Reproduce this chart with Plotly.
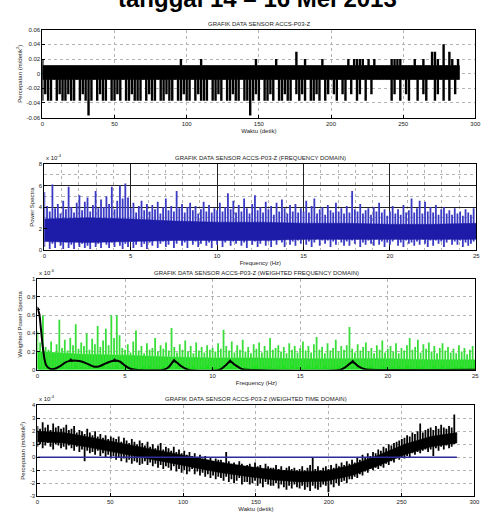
import plotly.graph_objects as go

# ---------------- DATA ----------------
# Panel 1: acceleration (m/s^2), 2-second bins, upper / lower excursions
E, F, G, H = 0.011, 0.02, 0.03, 0.04
A, B, C, D = -0.037, -0.028, -0.008, -0.057
p1_step = 2.0
p1_core = [C, E]          # solid band always filled
p1_core_t = [0, 289]
p1_hi = [F, E, E, E, E, E, E, E, E, E,
         E, E, E, E, E, E, E, E, E, E,
         E, E, E, E, E, E, E, E, E, E,
         E, E, E, E, E, E, E, E, E, E,
         E, E, E, E, E, E, E, E, F, E,
         E, E, E, E, E, F, E, E, E, E,
         E, E, E, E, E, E, E, E, E, E,
         E, E, E, E, F, E, E, E, E, E,
         E, F, E, E, E, E, E, E, G, E,
         E, F, E, E, E, E, E, F, E, E,
         E, E, E, E, E, E, F, E, F, F,
         F, F, E, F, E, F, E, E, E, E,
         E, F, F, F, F, E, E, E, E, F,
         E, E, F, E, E, G, G, F, E, H,
         E, G, F, E, F]
p1_lo = [A, B, A, A, C, A, B, A, A, B,
         A, A, C, A, B, A, D, A, C, A,
         B, A, A, C, A, A, B, A, C, A,
         A, B, A, A, A, C, A, B, A, A,
         C, A, A, B, A, A, C, A, A, B,
         A, A, C, A, B, A, A, A, C, A,
         A, B, A, C, A, A, B, A, A, C,
         A, A, D, A, B, A, C, A, A, B,
         A, C, A, A, B, A, A, C, B, A,
         B, A, C, A, A, B, A, C, A, B,
         C, B, A, C, B, A, C, B, C, A,
         B, C, A, C, B, C, C, C, C, C,
         C, A, B, C, A, C, B, A, C, C,
         A, C, B, A, C, C, A, B, C, A,
         C, A, C, B, C]

# Panel 2: power spectra (x 1e-4), bins of 25/160 Hz
p2_hi = [5.4, 4.1, 3.6, 6.1, 3.9, 4.3, 3.4, 4.6,
         3.8, 5.9, 4.0, 3.5, 4.4, 5.1, 3.7, 4.5,
         4.9, 3.6, 4.2, 5.5, 3.9, 4.7, 4.0, 5.0,
         4.3, 5.9, 3.8, 4.6, 6.0, 4.8, 6.2, 4.9,
         3.9, 4.4, 3.5, 4.1, 4.6, 3.7, 4.3, 3.6,
         4.2, 3.8, 4.5, 3.4, 4.0, 4.8, 3.7, 4.1,
         3.6, 5.5, 3.9, 4.3, 3.5, 4.0, 4.4, 3.7,
         4.1, 3.4, 3.8, 4.5, 3.6, 4.2, 3.5, 3.9,
         3.7, 4.4, 3.6, 4.0, 5.3, 3.8, 4.6, 3.5,
         4.2, 3.6, 4.8, 3.9, 3.4, 4.3, 5.1, 3.7,
         4.0, 3.5, 4.5, 3.8, 4.1, 3.3, 4.4, 3.6,
         4.7, 3.9, 3.4, 4.2, 3.6, 4.3, 3.5, 3.9,
         3.6, 4.6, 3.5, 4.1, 4.8, 3.4, 3.8, 4.0,
         3.3, 4.2, 3.7, 3.5, 4.4, 3.6, 3.9, 3.4,
         4.1, 3.5, 5.5, 3.8, 3.6, 4.3, 3.4, 3.7,
         3.9, 3.3, 4.0, 3.6, 4.4, 3.5, 3.8, 3.2,
         3.6, 4.1, 3.4, 3.8, 3.3, 4.2, 3.5, 3.7,
         4.8, 3.5, 3.9, 4.6, 3.4, 4.5, 3.6, 4.0,
         3.5, 4.2, 3.3, 3.8, 4.0, 3.4, 3.7, 3.3,
         3.9, 3.4, 3.6, 3.2, 3.8, 3.5, 3.3, 3.9]
p2_lo = [0.3, 0.9, 0.1, 0.6, 0.2, 0.8, 0.4, 0.1,
         0.7, 0.2, 0.5, 0.1, 0.9, 0.3, 0.6, 0.2,
         0.4, 0.1, 0.8, 0.3, 0.6, 0.2, 0.9, 0.5,
         0.2, 0.7, 0.3, 1.0, 0.4, 0.1, 0.6, 0.3,
         0.8, 0.2, 0.5, 0.9, 0.3, 0.6, 0.1, 0.7,
         0.4, 1.0, 0.2, 0.6, 0.8, 0.3, 0.5, 0.9,
         0.2, 0.6, 1.1, 0.4, 0.7, 0.2, 0.9, 0.5,
         0.8, 0.3, 0.6, 1.0, 0.4, 0.7, 0.2, 0.9,
         0.5, 0.9, 0.3, 0.7, 1.0, 0.4, 0.8, 0.6,
         0.9, 0.4, 0.7, 0.2, 1.1, 0.5, 0.8, 0.3,
         0.6, 1.0, 0.4, 0.8, 0.3, 0.9, 0.5, 1.1,
         0.7, 0.3, 1.0, 0.5, 0.8, 0.4, 0.9, 0.6,
         1.0, 0.5, 0.8, 0.3, 0.7, 1.1, 0.4, 0.9,
         0.6, 0.9, 0.3, 0.8, 0.5, 1.0, 0.7, 0.4,
         0.8, 0.4, 0.9, 0.6, 1.0, 0.3, 0.7, 0.5,
         0.9, 0.6, 0.4, 1.0, 0.5, 0.8, 0.3, 0.7,
         0.5, 0.8, 1.0, 0.4, 0.7, 0.3, 0.9, 0.6,
         0.7, 0.4, 0.8, 0.5, 1.0, 0.6, 0.3, 0.9,
         0.4, 0.9, 0.6, 0.8, 0.3, 0.7, 1.0, 0.5,
         0.8, 0.5, 0.9, 0.3, 0.7, 0.4, 0.6, 0.8]
# dense core of the blue spectrum, every 2.5 Hz
p2_core_f = [0, 2.5, 5, 7.5, 10, 12.5, 15, 17.5, 20, 22.5, 25]
p2_core_hi = [2.9, 3.0, 2.9, 2.7, 2.6, 2.6, 2.5, 2.5, 2.4, 2.4, 2.5]
p2_core_lo = [0.8, 0.7, 0.8, 0.9, 0.9, 0.9, 1.0, 1.0, 1.0, 1.0, 1.0]

# Panel 3: weighted power spectra (x 1e-6)
p3_hi = [0.42, 0.30, 0.60, 0.25, 0.22, 0.31, 0.19, 0.28,
         0.55, 0.24, 0.33, 0.21, 0.35, 0.27, 0.50, 0.23,
         0.30, 0.26, 0.40, 0.22, 0.34, 0.28, 0.48, 0.25,
         0.32, 0.45, 0.27, 0.60, 0.35, 0.60, 0.38, 0.24,
         0.22, 0.28, 0.19, 0.31, 0.43, 0.21, 0.26, 0.18,
         0.29, 0.22, 0.24, 0.35, 0.20, 0.27, 0.23, 0.30,
         0.21, 0.46, 0.25, 0.19, 0.28, 0.22, 0.32, 0.20,
         0.26, 0.18, 0.30, 0.21, 0.25, 0.19, 0.27, 0.22,
         0.24, 0.20, 0.29, 0.23, 0.44, 0.26, 0.21, 0.31,
         0.19, 0.27, 0.22, 0.33, 0.20, 0.25, 0.18, 0.28,
         0.23, 0.30, 0.19, 0.26, 0.21, 0.35, 0.22, 0.24,
         0.27, 0.20, 0.25, 0.18, 0.29, 0.22, 0.26, 0.19,
         0.24, 0.31, 0.21, 0.26, 0.19, 0.28, 0.36, 0.22,
         0.25, 0.18, 0.29, 0.21, 0.24, 0.33, 0.20, 0.26,
         0.22, 0.27, 0.47, 0.23, 0.19, 0.28, 0.21, 0.25,
         0.30, 0.20, 0.24, 0.18, 0.27, 0.22, 0.32, 0.19,
         0.23, 0.26, 0.20, 0.29, 0.18, 0.24, 0.21, 0.27,
         0.35, 0.22, 0.25, 0.33, 0.19, 0.28, 0.23, 0.30,
         0.20, 0.26, 0.18, 0.24, 0.29, 0.21, 0.25, 0.19,
         0.23, 0.18, 0.27, 0.20, 0.24, 0.17, 0.22, 0.26]
p3_lo = [0.01, 0.03, 0.00, 0.02, 0.05, 0.01, 0.03, 0.00,
         0.02, 0.04, 0.01, 0.03, 0.00, 0.02, 0.05, 0.01,
         0.03, 0.00, 0.02, 0.04, 0.01, 0.03, 0.00, 0.02,
         0.04, 0.01, 0.03, 0.00, 0.02, 0.05, 0.01, 0.03,
         0.00, 0.02, 0.04, 0.01, 0.03, 0.00, 0.02, 0.04,
         0.01, 0.05, 0.02, 0.00, 0.03, 0.01, 0.04, 0.02,
         0.03, 0.00, 0.01, 0.04, 0.02, 0.05, 0.00, 0.03,
         0.02, 0.04, 0.00, 0.01, 0.03, 0.02, 0.05, 0.01,
         0.00, 0.03, 0.02, 0.04, 0.01, 0.00, 0.03, 0.05,
         0.02, 0.01, 0.04, 0.00, 0.03, 0.02, 0.01, 0.04,
         0.05, 0.02, 0.00, 0.03, 0.01, 0.04, 0.02, 0.00,
         0.03, 0.01, 0.05, 0.02, 0.00, 0.04, 0.01, 0.03,
         0.02, 0.00, 0.03, 0.05, 0.01, 0.02, 0.04, 0.00,
         0.01, 0.04, 0.02, 0.00, 0.03, 0.01, 0.05, 0.02,
         0.04, 0.02, 0.01, 0.03, 0.00, 0.05, 0.02, 0.01,
         0.00, 0.03, 0.05, 0.01, 0.02, 0.00, 0.04, 0.03,
         0.02, 0.01, 0.03, 0.00, 0.04, 0.02, 0.01, 0.05,
         0.03, 0.00, 0.02, 0.04, 0.01, 0.03, 0.00, 0.02,
         0.01, 0.04, 0.00, 0.02, 0.05, 0.01, 0.03, 0.00,
         0.02, 0.03, 0.01, 0.04, 0.00, 0.02, 0.03, 0.01]
p3_core_f = [0, 2.5, 5, 7.5, 10, 12.5, 15, 17.5, 20, 22.5, 25]
p3_core_hi = [0.20, 0.17, 0.16, 0.14, 0.13, 0.13, 0.12, 0.12, 0.12, 0.11, 0.11]
p3_curve_f = [0.0, 0.1, 0.2, 0.3, 0.4, 0.5, 0.7, 1.0, 1.3, 1.6, 1.9, 2.4, 2.8, 3.2, 3.5,
              3.9, 4.4, 4.7, 5.0, 5.3, 5.6, 7.2, 7.5, 7.8, 8.2, 8.6, 10.4, 10.7, 11.0,
              11.3, 11.7, 12.0, 17.3, 17.6, 18.0, 18.3, 18.7, 19.0, 25.0]
p3_curve_v = [0.67, 0.62, 0.45, 0.26, 0.12, 0.05, 0.012, 0.01, 0.04, 0.08, 0.10, 0.095, 0.07,
              0.035, 0.035, 0.07, 0.10, 0.09, 0.045, 0.01, 0.0, 0.0, 0.03, 0.095, 0.04, 0.0,
              0.0, 0.04, 0.09, 0.05, 0.005, 0.0, 0.0, 0.03, 0.085, 0.04, 0.005, 0.0, 0.0]
p3_peak_f = [0.0, 1.9, 4.4, 7.8, 11.0, 18.0]
p3_peak_v = [0.67, 0.10, 0.10, 0.095, 0.09, 0.085]

# Panel 4: weighted time domain (x 1e-4), 1.8 s bins
p4_step = 1.8
p4_hi = [2.4, 2.2, 2.7, 2.3, 2.5, 2.1, 2.6, 2.3, 2.4, 2.2,
         2.3, 2.5, 2.1, 2.2, 2.4, 1.9, 2.1, 2.0, 1.8, 2.2,
         1.9, 1.7, 2.0, 1.6, 1.8, 1.5, 1.7, 1.4, 1.6, 1.5,
         1.4, 1.6, 1.2, 1.5, 1.3, 1.1, 1.4, 1.2, 1.0, 1.3,
         1.1, 0.9, 1.2, 0.8, 1.0, 0.7, 0.9, 1.1, 0.6, 0.8,
         0.7, 0.5, 0.8, 0.4, 0.6, 0.3, 0.5, 0.2, 0.4, 0.1,
         0.3, 0.0, 0.2, -0.1, 0.1, -0.2, 0.0, -0.3, -0.1, -0.2,
         -0.2, -0.4, 0.4, -0.3, -0.5, -0.4, -0.6, -0.3, -0.5, -0.7,
         -0.6, -0.5, -0.8, -0.4, -0.7, -0.6, -0.9, -0.5, -0.7, -0.8,
         -0.8, -0.6, -0.9, -0.7, -1.0, -0.8, -0.7, -0.9, -0.8, -1.0,
         -0.9, -0.7, -1.0, -0.8, -0.6, 0.0, -0.9, -0.7, -1.0, -0.8,
         -0.7, -0.9, -0.6, -0.8, -0.5, -0.7, -0.4, -0.6, -0.3, -0.5,
         -0.2, -0.4, 0.0, -0.2, 0.2, 0.0, 0.3, 0.1, 0.4, 0.3,
         0.6, 0.5, 0.8, 0.7, 1.0, 0.9, 1.1, 1.2, 1.3, 1.4,
         1.5, 1.7, 1.6, 1.9, 1.8, 2.0, 2.6, 1.9, 2.1, 2.2,
         2.3, 2.1, 2.4, 2.2, 2.5, 2.3, 2.2, 2.4, 2.3, 3.3]
p4_lo = [0.8, 1.0, 0.7, 0.9, 1.1, 0.8, 0.6, 1.0, 0.9, 0.7,
         0.8, 0.6, 0.9, 0.7, 0.5, 0.8, 0.4, 0.6, -0.3, 0.5,
         0.3, 0.4, 0.2, 0.5, 0.1, 0.3, 0.0, 0.2, -0.1, 0.1,
         -0.2, 0.0, -0.3, -0.1, -0.4, -0.2, -0.5, -0.3, -0.4, -0.6,
         -0.5, -0.3, -0.6, -0.4, -0.7, -0.5, -0.8, -0.6, -0.9, -0.7,
         -0.8, -1.0, -0.7, -1.1, -0.9, -1.2, -1.0, -1.3, -1.1, -0.9,
         -1.3, -1.1, -1.4, -1.2, -1.5, -1.3, -1.6, -1.4, -1.7, -1.5,
         -1.6, -1.8, -1.5, -1.9, -1.7, -2.0, -1.8, -1.6, -2.1, -1.9,
         -1.9, -2.1, -2.0, -1.8, -2.2, -2.0, -2.3, -1.9, -2.1, -2.2,
         -2.2, -2.0, -2.4, -2.1, -2.3, -2.5, -2.2, -2.4, -2.1, -2.3,
         -2.4, -2.2, -2.5, -2.3, -2.6, -2.2, -2.4, -2.5, -2.3, -2.1,
         -2.2, -2.7, -2.1, -2.3, -2.0, -2.2, -1.9, -1.8, -2.0, -1.7,
         -1.7, -1.5, -1.6, -1.3, -1.4, -1.1, -1.2, -0.9, -1.0, -0.8,
         -0.9, -0.7, -0.8, -0.5, -0.6, -0.3, -0.4, -0.1, -0.2, 0.0,
         -0.1, 0.1, 0.0, 0.3, 0.2, 0.4, 0.3, 0.5, 0.6, 0.4,
         0.6, 0.1, 0.7, 0.5, 0.8, 0.6, 0.9, 0.7, 0.8, 1.0]
# dense core of the weighted time signal, every 18 s
p4_core_t = [0, 18, 36, 54, 72, 90, 108, 126, 144, 162, 180, 198, 216, 234, 252, 270, 288]
p4_core_hi = [2.0, 1.9, 1.55, 1.15, 0.8, 0.4, 0.0, -0.4, -0.7, -0.95, -1.1, -1.05, -0.6, 0.15, 1.0, 1.6, 1.9]
p4_core_lo = [1.2, 1.1, 0.75, 0.35, 0.0, -0.4, -0.8, -1.2, -1.5, -1.75, -1.9, -1.85, -1.4, -0.65, 0.2, 0.8, 1.1]
p4_ref_t = [0, 288]
p4_ref_v = [0, 0]

# ---------------- FIGURE ----------------
W, Hh = 504, 520
FONT = "Liberation Sans"


def strokes(step, hi, lo, x0=0.0):
    """vertical strokes from lo to hi, one per bin"""
    xs, ys = [], []
    for k, (h, l) in enumerate(zip(hi, lo)):
        x = x0 + k * step
        xs += [x, x, None]
        ys += [h, l, None]
    return xs, ys


def band(xs, hi, lo):
    return list(xs) + list(xs)[::-1], list(hi) + list(lo)[::-1]


def xdom(a, b):
    return [a / W, b / W]


def ydom(top, bottom):
    return [1 - bottom / Hh, 1 - top / Hh]


fig = go.Figure()

# Panel 1
bx, by = band(p1_core_t, [p1_core[1]] * 2, [p1_core[0]] * 2)
fig.add_trace(go.Scatter(x=bx, y=by, fill="toself", fillcolor="black", mode="lines",
                         line=dict(color="black", width=0.5), xaxis="x", yaxis="y", showlegend=False))
x1, y1 = strokes(p1_step, p1_hi, p1_lo)
fig.add_trace(go.Scatter(x=x1, y=y1, mode="lines", line=dict(color="black", width=2.4),
                         xaxis="x", yaxis="y", showlegend=False))

# Panel 2
p2_step = 25.0 / len(p2_hi)
x2, y2 = strokes(p2_step, p2_hi, p2_lo)
fig.add_trace(go.Scatter(x=x2, y=y2, mode="lines", line=dict(color="#3a3ac4", width=1.8),
                         xaxis="x2", yaxis="y2", showlegend=False))
bx, by = band(p2_core_f, p2_core_hi, p2_core_lo)
fig.add_trace(go.Scatter(x=bx, y=by, fill="toself", fillcolor="#1c1ca8", mode="lines",
                         line=dict(color="#1c1ca8", width=0.5),
                         xaxis="x2", yaxis="y2", showlegend=False))

# Panel 3
bx, by = band(p3_core_f, p3_core_hi, [0] * len(p3_core_f))
fig.add_trace(go.Scatter(x=bx, y=by, fill="toself", fillcolor="#1fe01f", mode="lines",
                         line=dict(color="#1fe01f", width=0.5),
                         xaxis="x3", yaxis="y3", showlegend=False))
p3_step = 25.0 / len(p3_hi)
x3, y3 = strokes(p3_step, p3_hi, p3_lo)
fig.add_trace(go.Scatter(x=x3, y=y3, mode="lines", line=dict(color="#3ade3a", width=1.8),
                         xaxis="x3", yaxis="y3", showlegend=False))
fig.add_trace(go.Scatter(x=p3_curve_f, y=p3_curve_v, mode="lines",
                         line=dict(color="black", width=2, shape="spline", smoothing=0.8),
                         xaxis="x3", yaxis="y3", showlegend=False))
fig.add_trace(go.Scatter(x=p3_peak_f, y=p3_peak_v, mode="markers",
                         marker=dict(symbol="triangle-up", size=5, color="black"),
                         xaxis="x3", yaxis="y3", showlegend=False))

# Panel 4
bx, by = band(p4_core_t, p4_core_hi, p4_core_lo)
fig.add_trace(go.Scatter(x=bx, y=by, fill="toself", fillcolor="black", mode="lines",
                         line=dict(color="black", width=0.5),
                         xaxis="x4", yaxis="y4", showlegend=False))
x4, y4 = strokes(p4_step, p4_hi, p4_lo)
fig.add_trace(go.Scatter(x=x4, y=y4, mode="lines", line=dict(color="black", width=1.8),
                         xaxis="x4", yaxis="y4", showlegend=False))
fig.add_trace(go.Scatter(x=p4_ref_t, y=p4_ref_v, mode="lines", line=dict(color="#2c2c9c", width=1.5),
                         xaxis="x4", yaxis="y4", showlegend=False))

tickfont = dict(size=6, color="#222", family=FONT)
titlefont = dict(size=6, color="#222", family=FONT)
base = dict(showline=True, linecolor="black", linewidth=1, mirror=True, ticks="inside",
            ticklen=3, tickcolor="black", tickfont=tickfont, showgrid=True,
            gridcolor="#b4b4b4", griddash="dot", gridwidth=1, zeroline=False)

panels = [
    dict(x=(41, 481), y=(27, 116)),
    dict(x=(43, 482), y=(163, 250)),
    dict(x=(36, 481), y=(279, 371)),
    dict(x=(36, 480), y=(407, 499)),
]

lay = dict(width=W, height=Hh, margin=dict(l=0, r=0, t=0, b=0),
           paper_bgcolor="white", plot_bgcolor="white", font=dict(family=FONT))

lay["xaxis"] = dict(base, domain=xdom(*panels[0]["x"]), anchor="y", range=[0, 300], dtick=50,
                    title=dict(text="Waktu (detik)", font=titlefont, standoff=2))
lay["yaxis"] = dict(base, domain=ydom(*panels[0]["y"]), anchor="x", range=[-0.06, 0.06],
                    tickvals=[-0.06, -0.04, -0.02, 0, 0.02, 0.04, 0.06],
                    ticktext=["-0.06", "-0.04", "-0.02", "0", "0.02", "0.04", "0.06"],
                    title=dict(text="Percepatan (m/detik<sup>2</sup>)", font=titlefont, standoff=3))

lay["xaxis2"] = dict(base, domain=xdom(*panels[1]["x"]), anchor="y2", range=[0, 25], dtick=5,
                     gridcolor="#222", griddash="solid",
                     minor=dict(dtick=1, showgrid=True, gridcolor="#b4b4b4", griddash="dot", ticks=""),
                     title=dict(text="Frequency (Hz)", font=titlefont, standoff=2))
lay["yaxis2"] = dict(base, domain=ydom(*panels[1]["y"]), anchor="x2", range=[0, 8], dtick=2,
                     gridcolor="#222", griddash="solid",
                     minor=dict(dtick=1, showgrid=True, gridcolor="#b4b4b4", griddash="dot", ticks=""),
                     title=dict(text="Power Spectra", font=titlefont, standoff=3))

lay["xaxis3"] = dict(base, domain=xdom(*panels[2]["x"]), anchor="y3", range=[0, 25], dtick=5,
                     title=dict(text="Frequency (Hz)", font=titlefont, standoff=2))
lay["yaxis3"] = dict(base, domain=ydom(*panels[2]["y"]), anchor="x3", range=[0, 1],
                     tickvals=[0, 0.2, 0.4, 0.6, 0.8, 1], ticktext=["0", "0.2", "0.4", "0.6", "0.8", "1"],
                     title=dict(text="Weighted Power Spectra", font=titlefont, standoff=3))

lay["xaxis4"] = dict(base, domain=xdom(*panels[3]["x"]), anchor="y4", range=[0, 300], dtick=50,
                     title=dict(text="Waktu (detik)", font=titlefont, standoff=2))
lay["yaxis4"] = dict(base, domain=ydom(*panels[3]["y"]), anchor="x4", range=[-3, 4],
                     tickvals=[-3, -2, -1, 0, 1, 2, 3, 4], ticktext=["-3", "-2", "-1", "0", "1", "2", "3", "4"],
                     title=dict(text="Percepatan (m/detik<sup>2</sup>)", font=titlefont, standoff=3))

titles = ["GRAFIK DATA SENSOR ACCS-P03-Z",
          "GRAFIK DATA SENSOR ACCS-P03-Z (FREQUENCY DOMAIN)",
          "GRAFIK DATA SENSOR ACCS-P03-Z (WEIGHTED FREQUENCY DOMAIN)",
          "GRAFIK DATA SENSOR ACCS-P03-Z (WEIGHTED TIME DOMAIN)"]
multipliers = [None, "x 10<sup>-4</sup>", "x 10<sup>-6</sup>", "x 10<sup>-4</sup>"]

ann = []
for p, t, m in zip(panels, titles, multipliers):
    xa, xb = p["x"]
    top = p["y"][0]
    ann.append(dict(text=t, x=(xa + xb) / 2 / W, y=1 - (top - 6) / Hh, xref="paper", yref="paper",
                    xanchor="center", yanchor="middle", showarrow=False,
                    font=dict(size=6, color="#222", family=FONT)))
    if m:
        ann.append(dict(text=m, x=xa / W, y=1 - (top - 1) / Hh, xref="paper", yref="paper",
                        xanchor="left", yanchor="bottom", showarrow=False,
                        font=dict(size=6, color="#222", family=FONT)))

ann.append(dict(text="<b>tanggal 14 – 16 Mei 2013</b>", x=260 / W, y=1 - (-5) / Hh,
                xref="paper", yref="paper", xanchor="center", yanchor="middle", showarrow=False,
                font=dict(size=24, color="black", family=FONT)))
lay["annotations"] = ann

fig.update_layout(**lay)
fig.write_html("out.html")
